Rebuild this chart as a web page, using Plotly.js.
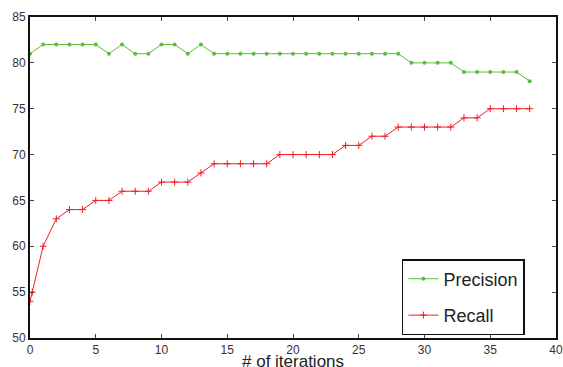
<!DOCTYPE html>
<html>
<head>
<meta charset="utf-8">
<script src="https://cdn.plot.ly/plotly-3.0.1.min.js"></script>
<style>html,body{margin:0;padding:0;background:#fff}#chart{width:563px;height:367px}</style>
</head>
<body>
<div id="chart"></div>
<script>
const precisionX = [0,1,2,3,4,5,6,7,8,9,10,11,12,13,14,15,16,17,18,19,20,21,22,23,24,25,26,27,28,29,30,31,32,33,34,35,36,37,38];
const precisionY = [81,82,82,82,82,82,81,82,81,81,82,82,81,82,81,81,81,81,81,81,81,81,81,81,81,81,81,81,81,80,80,80,80,79,79,79,79,79,78];
const recallX = [0,0.17,1,2,3,4,5,6,7,8,9,10,11,12,13,14,15,16,17,18,19,20,21,22,23,24,25,26,27,28,29,30,31,32,33,34,35,36,37,38];
const recallY = [54,55,60,63,64,64,65,65,66,66,66,67,67,67,68,69,69,69,69,69,70,70,70,70,70,71,71,72,72,73,73,73,73,73,74,74,75,75,75,75];
const xTicks = [0,5,10,15,20,25,30,35,40];
const yTicks = [50,55,60,65,70,75,80,85];
const xTitle = '# of iterations';

const traces = [
  {x: precisionX, y: precisionY, name: 'Precision', mode: 'lines+markers', legendgroup: 'p',
   line: {color: '#5cbd3c', width: 1}, marker: {symbol: 'circle', size: 4, color: '#5cbd3c'}},
  {x: recallX, y: recallY, name: 'Recall', mode: 'lines+markers', legendgroup: 'r',
   line: {color: '#f21c24', width: 1}, marker: {symbol: 'cross-thin', size: 5, line: {color: '#f21c24', width: 1}}}
];

const axisCommon = {showgrid: false, zeroline: false, showline: true, linecolor: '#111', linewidth: 2,
  mirror: 'ticks', ticks: 'inside', ticklen: 4, tickcolor: '#444', tickwidth: 1,
  tickfont: {family: 'Liberation Sans, Arial, sans-serif', size: 12, color: '#333'}};

const layout = {
  width: 563, height: 367,
  margin: {l: 30, r: 7, t: 17, b: 29},
  paper_bgcolor: '#fff', plot_bgcolor: '#fff',
  font: {family: 'Liberation Sans, Arial, sans-serif', color: '#222'},
  xaxis: Object.assign({}, axisCommon, {range: [0, 40], tickvals: xTicks, ticktext: xTicks.map(String)}),
  yaxis: Object.assign({}, axisCommon, {range: [50, 85], tickvals: yTicks, ticktext: yTicks.map(String)}),
  annotations: [{text: xTitle, xref: 'paper', yref: 'paper', x: 0.5, y: -0.073, xanchor: 'center', yanchor: 'middle',
    showarrow: false, font: {size: 17, color: '#222'}}],
  showlegend: true,
  legend: {x: 0.707, y: 0.246, xanchor: 'left', yanchor: 'top', bgcolor: '#fff', bordercolor: '#111', borderwidth: 1.5,
    font: {size: 18, color: '#222'}, tracegroupgap: 10, itemwidth: 30}
};

Plotly.newPlot('chart', traces, layout, {displayModeBar: false, staticPlot: true});
</script>
</body>
</html>
